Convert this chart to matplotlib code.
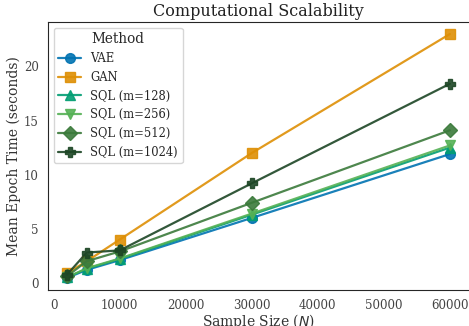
import matplotlib
matplotlib.use("Agg")
import matplotlib.pyplot as plt
import seaborn as sns

# sample sizes and mean epoch times (seconds)
sample_sizes = [2000, 5000, 10000, 30000, 60000]
vae = [0.45, 1.2, 2.1, 6.0, 11.9]
gan = [0.9, 2.0, 4.0, 12.0, 23.0]
sql_128 = [0.5, 1.3, 2.2, 6.3, 12.5]
sql_256 = [0.5, 1.35, 2.25, 6.4, 12.7]
sql_512 = [0.6, 2.0, 2.9, 7.4, 14.1]
sql_1024 = [0.75, 2.8, 3.0, 9.2, 18.4]

methods = ["VAE", "GAN", "SQL (m=128)", "SQL (m=256)", "SQL (m=512)", "SQL (m=1024)"]
series = [vae, gan, sql_128, sql_256, sql_512, sql_1024]
markers = ["o", "s", "^", "v", "D", "P"]
colors = ["#0173b2", "#de8f05", "#029e73", "#55b155", "#3b7a3b", "#1d4625"]

sns.set_style("white")
plt.rcParams["font.family"] = ["DejaVu Serif"]

fig = plt.figure(figsize=(4.69, 3.26), dpi=100)
ax = fig.add_axes([0.102, 0.110, 0.898, 0.823])

for name, vals, mk, col in zip(methods, series, markers, colors):
    ax.plot(sample_sizes, vals, marker=mk, color=col, label=name,
            linewidth=1.6, markersize=7, alpha=0.9)

ax.set_title("Computational Scalability", fontsize=11.5, color="#222222", pad=4)
ax.set_xlabel("Sample Size ($N$)", fontsize=10, color="#333333", labelpad=0)
ax.set_ylabel("Mean Epoch Time (seconds)", fontsize=10, color="#333333", labelpad=2)
ax.tick_params(labelsize=8.5, labelcolor="#444444", pad=3)
ax.set_xticks([0, 10000, 20000, 30000, 40000, 50000, 60000])
ax.set_yticks([0, 5, 10, 15, 20])
ax.spines["right"].set_visible(False)
ax.legend(title="Method", loc="upper left", fontsize=8.3, title_fontsize=9.8)

fig.savefig("out.png", dpi=100)
